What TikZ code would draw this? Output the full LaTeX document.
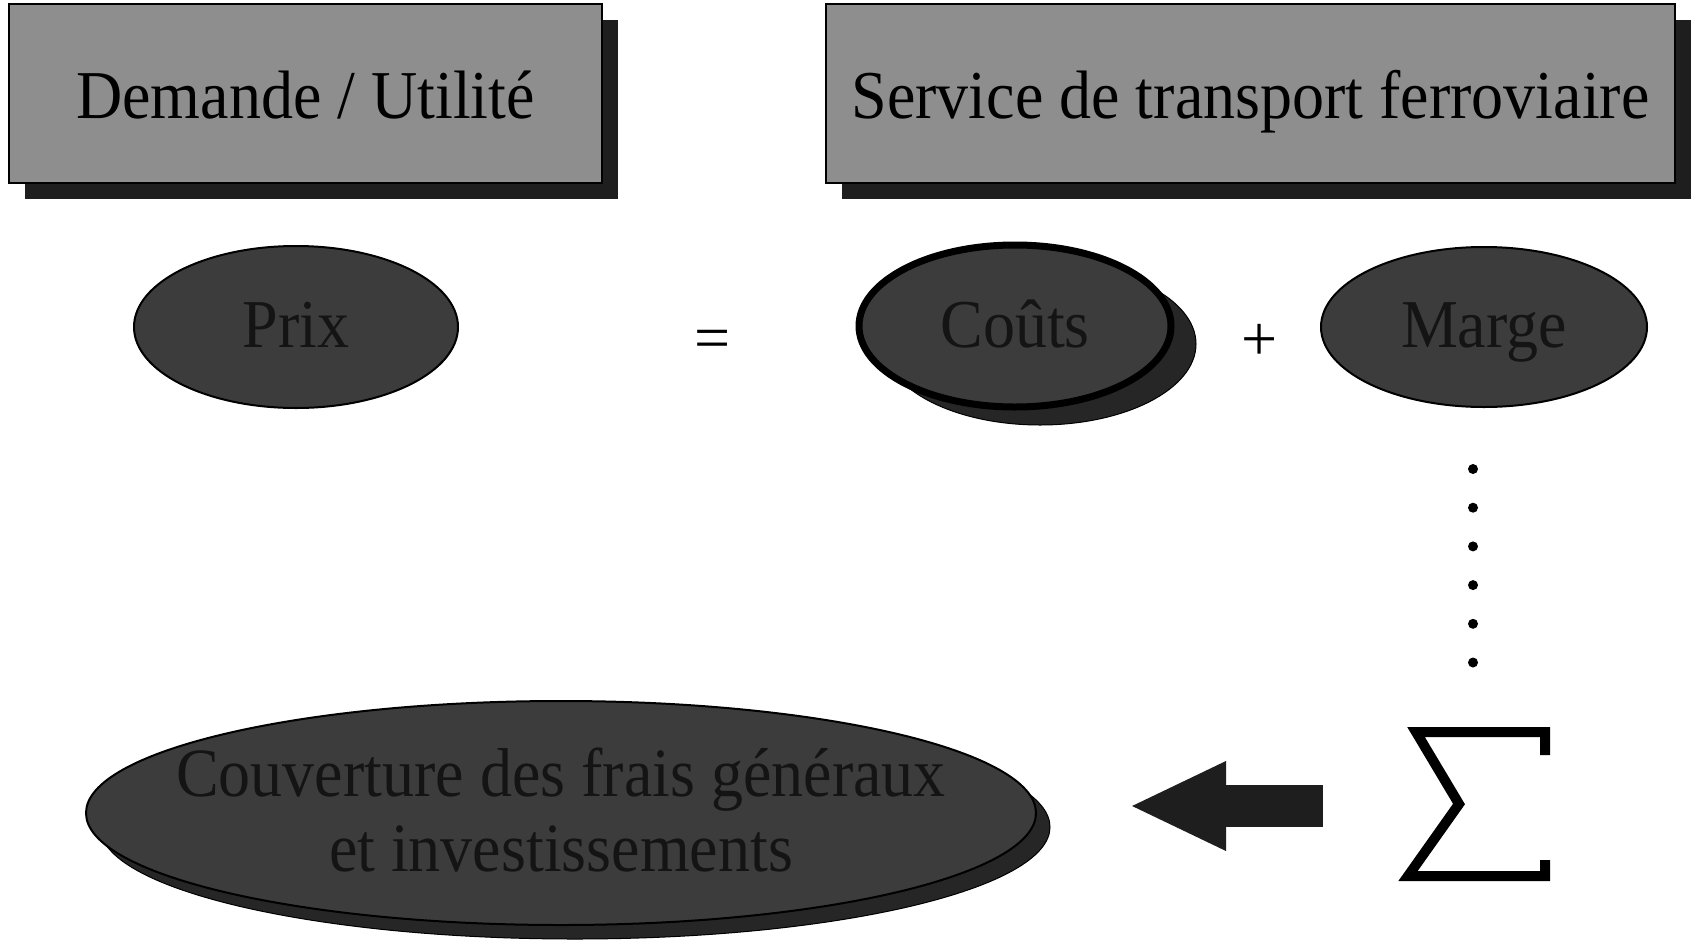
\documentclass[tikz,border=0pt]{standalone}
\usepackage{fontspec}
\setmainfont{Liberation Serif}
\usetikzlibrary{shapes.geometric,arrows.meta,calc}
\definecolor{boxgray}{HTML}{8E8E8E}
\definecolor{shadowgray}{HTML}{1E1E1E}
\definecolor{ellgray}{HTML}{3C3C3C}
\definecolor{ellshadow}{HTML}{262626}
\definecolor{ink}{HTML}{141414}
\tikzset{
  big/.style={font=\fontsize{64}{69.5}\selectfont},
  titlebox/.style={draw=black, line width=2pt, fill=boxgray, inner sep=0pt, big, text=black,
    minimum height=179pt, text height=49pt, text depth=0pt},
  boxshadow/.style={fill=shadowgray, draw=none, inner sep=0pt, minimum height=179pt},
  oval/.style={ellipse, draw=black, line width=2pt, fill=ellgray, inner sep=0pt, big, text=ink,
    text height=40pt, text depth=0pt},
  ovalshadow/.style={ellipse, draw=black, line width=1pt, fill=ellshadow, inner sep=0pt},
  sym/.style={big, text=black, inner sep=0pt},
  dotline/.style={line width=10pt, line cap=round, dash pattern=on 0pt off 38.7pt},
  sigmastroke/.style={line width=10pt, line join=miter, line cap=butt},
  bigarrow/.style={draw=shadowgray, line width=42pt, -{Triangle[length=97pt, width=82pt]}}
}
\newcommand{\tall}[1]{\scalebox{1}[1.07]{#1}}
\begin{document}
\begin{tikzpicture}[x=1pt,y=-1pt]
\useasboundingbox (0,0) rectangle (1691,940);
\fill[white] (0,0) rectangle (1691,940);

% title boxes
\node[boxshadow, minimum width=593pt] (s1) at (321.5,109.5) {};
\node[titlebox, minimum width=593pt] (demande) at (305.5,93.5) {\tall{Demande / Utilité}};
\node[boxshadow, minimum width=849pt] (s2) at (1266.5,109.5) {};
\node[titlebox, minimum width=849pt] (service) at (1250.5,93.5) {\tall{Service de transport ferroviaire}};

% equation row
\node[oval, minimum width=324pt, minimum height=162pt] (prix) at (296,327) {\tall{Prix}};
\node[sym] (eq) at (713,345) {=};
\node[ovalshadow, minimum width=312pt, minimum height=162pt] (coutsS) at (1040,344) {};
\node[oval, line width=7pt, minimum width=312pt, minimum height=162pt, text height=42pt] (couts) at (1015,326) {\tall{Coûts}};
\node[sym] (plus) at (1260,342) {+};
\node[oval, minimum width=326pt, minimum height=160pt] (marge) at (1484,327) {\tall{Marge}};

% dotted line
\coordinate (d1) at (1473,469);
\coordinate (d6) at (1473,663);
\draw[dotline] (d1) -- (d6);

% sigma
\node[minimum width=150pt, minimum height=154pt, inner sep=0pt] (sig) at (1475,806) {};
\draw[sigmastroke] (1545,755) -- (1545,732) -- (1416,732) -- (1459,804) -- (1408,876) -- (1545,876) -- (1545,860);

% bottom ellipse
\node[ovalshadow, minimum width=950pt, minimum height=224pt] (couvS) at (575,827) {};
\node[oval, minimum width=950pt, minimum height=224pt, text height=0pt, text depth=0pt] (couv) at (561,813)
  {\makebox[0pt]{\raisebox{-13pt}[0pt][0pt]{\scalebox{1}[1.08]{\begin{tabular}{@{}c@{}}Couverture des frais généraux\\et investissements\end{tabular}}}}};

% block arrow
\draw[bigarrow, shorten <=77pt, shorten >=92pt] (sig.west) -- (couv.east |- sig.west);
\end{tikzpicture}
\end{document}
